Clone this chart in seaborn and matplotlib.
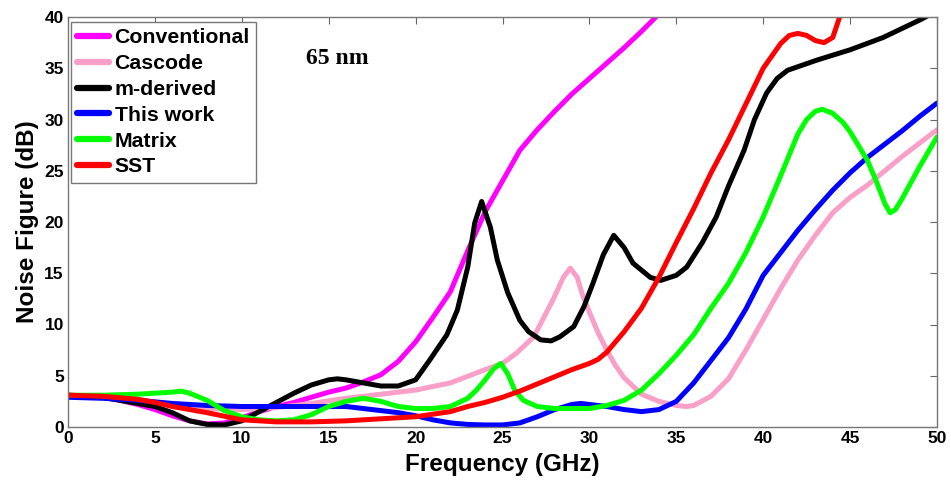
import numpy as np
import pandas as pd
import matplotlib
matplotlib.use("Agg")
import matplotlib.pyplot as plt
import seaborn as sns

# ---- data ----
conv_x = [0, 1, 2, 3, 4, 5, 6, 7, 8, 9, 10, 11, 12, 13, 14, 15, 16, 17, 18, 19, 20, 21, 22, 23, 24, 25, 26, 27, 28, 29, 30, 31, 32, 33, 34]
conv_y = [3.1, 3.05, 2.9, 2.6, 2.2, 1.7, 1.1, 0.6, 0.3, 0.4, 0.9, 1.5, 2.0, 2.4, 2.9, 3.4, 3.8, 4.4, 5.1, 6.4, 8.3, 10.7, 13.2, 17.2, 21.0, 24.0, 27.0, 29.0, 30.8, 32.5, 34.0, 35.5, 37.0, 38.6, 40.3]

casc_x = [0, 2, 4, 6, 8, 10, 12, 14, 16, 18, 20, 22, 24, 25, 25.8, 26.8, 27.9, 28.5, 28.9, 29.3, 29.6, 30, 30.5, 31, 31.5, 32, 33, 34, 35, 35.6, 36, 37, 38, 39, 40, 41, 42, 43, 44, 45, 46, 47, 48, 49, 50]
casc_y = [3.1, 3.0, 2.7, 2.2, 1.8, 1.7, 1.9, 2.3, 2.8, 3.2, 3.6, 4.3, 5.6, 6.2, 7.2, 8.8, 12.4, 14.6, 15.5, 14.6, 12.9, 11.2, 9.2, 7.5, 6.0, 4.8, 3.2, 2.5, 2.1, 2.0, 2.1, 3.0, 4.7, 7.5, 10.5, 13.5, 16.3, 18.7, 20.9, 22.4, 23.6, 25.0, 26.4, 27.7, 29.0]

mder_x = [0, 2, 4, 5, 6, 7, 8, 9, 10, 11, 12, 13, 14, 15, 15.5, 16, 17, 18, 19, 20, 20.8, 21.8, 22.4, 23.0, 23.4, 23.8, 24.3, 24.7, 25.3, 26.0, 26.5, 27.2, 27.8, 28.3, 29.1, 29.7, 30.2, 30.8, 31.4, 32, 32.5, 33.5, 34.1, 35, 35.6, 36.5, 37.3, 38, 38.9, 39.5, 40.2, 40.8, 41.4, 43.1, 45, 46.9, 49, 50]
mder_y = [3.1, 2.9, 2.3, 2.0, 1.4, 0.6, 0.25, 0.2, 0.6, 1.5, 2.4, 3.3, 4.1, 4.6, 4.7, 4.6, 4.3, 4.0, 4.0, 4.6, 6.5, 9.0, 11.4, 15.6, 19.9, 22.0, 19.5, 16.3, 13.1, 10.4, 9.3, 8.5, 8.4, 8.8, 9.8, 11.8, 14.0, 16.8, 18.7, 17.5, 16.0, 14.6, 14.3, 14.8, 15.6, 18.0, 20.5, 23.5, 27.0, 30.0, 32.6, 34.0, 34.8, 35.8, 36.8, 38.0, 39.7, 40.6]

this_x = [0, 2, 4, 6, 8, 10, 12, 14, 16, 17, 18, 19, 20, 21, 22, 23, 24, 25, 26, 27, 28, 29, 29.5, 30, 31, 32, 33, 34, 35, 36, 37, 38, 39, 40, 41, 42, 43, 44, 45, 46, 47, 48, 49, 50]
this_y = [2.9, 2.8, 2.6, 2.3, 2.1, 2.0, 2.0, 2.0, 2.0, 1.8, 1.6, 1.4, 1.1, 0.7, 0.4, 0.25, 0.2, 0.2, 0.4, 1.0, 1.7, 2.2, 2.3, 2.2, 2.0, 1.7, 1.5, 1.7, 2.5, 4.3, 6.5, 8.7, 11.5, 14.8, 17.0, 19.2, 21.2, 23.1, 24.8, 26.3, 27.6, 28.9, 30.3, 31.6]

matr_x = [0, 2, 4, 5, 6, 6.5, 7, 8, 9, 10, 11, 12, 13, 14, 15, 16, 17, 18, 19, 20, 21, 22, 23, 23.5, 24, 24.5, 24.9, 25.3, 25.7, 26.2, 27, 28, 29, 30, 31, 32, 33, 34, 35, 36, 37, 38, 39, 40, 41, 42, 42.5, 43, 43.4, 44, 44.6, 45, 46, 46.5, 47, 47.3, 47.6, 48, 49, 50]
matr_y = [3.1, 3.1, 3.2, 3.3, 3.4, 3.5, 3.3, 2.6, 1.6, 1.0, 0.7, 0.6, 0.7, 1.2, 2.0, 2.5, 2.8, 2.5, 2.0, 1.8, 1.8, 2.0, 2.8, 3.6, 4.6, 5.7, 6.2, 5.2, 3.6, 2.6, 2.0, 1.8, 1.8, 1.8, 2.1, 2.6, 3.6, 5.2, 7.0, 9.0, 11.6, 14.0, 17.0, 20.5, 24.5, 28.6, 30.0, 30.8, 31.0, 30.6, 29.7, 28.8, 26.0, 24.0, 21.8, 20.9, 21.2, 22.3, 25.4, 28.3]

sst_x = [0, 2, 4, 5, 6, 7, 8, 10, 12, 14, 16, 18, 20, 22, 23, 24, 25, 26, 27, 28, 29, 30, 30.5, 31, 32, 33, 34, 35, 36, 37, 38, 39, 40, 41, 41.5, 42, 42.5, 43, 43.5, 44, 44.3, 44.6]
sst_y = [3.1, 3.0, 2.7, 2.4, 2.0, 1.7, 1.4, 0.7, 0.5, 0.5, 0.6, 0.8, 1.0, 1.5, 2.0, 2.4, 2.9, 3.5, 4.2, 4.9, 5.6, 6.2, 6.6, 7.3, 9.3, 11.6, 14.6, 18.0, 21.3, 24.8, 28.0, 31.5, 35.0, 37.4, 38.2, 38.4, 38.2, 37.7, 37.5, 38.0, 39.5, 41.0]

series_names = ["Conventional", "Cascode", "m-derived", "This work", "Matrix", "SST"]
series_x = [conv_x, casc_x, mder_x, this_x, matr_x, sst_x]
series_y = [conv_y, casc_y, mder_y, this_y, matr_y, sst_y]
colors = ["#FF00FF", "#FA9FC8", "#000000", "#0000FF", "#00FF00", "#FF0000"]

x_ticks = [0, 5, 10, 15, 20, 25, 30, 35, 40, 45, 50]
y_ticks = [0, 5, 10, 15, 20, 25, 30, 35, 40]

sns.set_style("white")
plt.rcParams["font.family"] = ["Liberation Sans", "DejaVu Sans"]
plt.rcParams["font.weight"] = "bold"
plt.rcParams["text.color"] = "black"
plt.rcParams["axes.labelcolor"] = "black"
plt.rcParams["xtick.color"] = "black"
plt.rcParams["ytick.color"] = "black"
plt.rcParams["lines.solid_capstyle"] = "round"
plt.rcParams["lines.solid_joinstyle"] = "round"

fig = plt.figure(figsize=(9.51, 4.87), dpi=100)
ax = fig.add_axes([68 / 951, 60 / 487, (937 - 68) / 951, (427 - 17) / 487])

for name, xs, ys, c in zip(series_names, series_x, series_y, colors):
    df = pd.DataFrame({"x": xs, "y": ys})
    sns.lineplot(data=df, x="x", y="y", ax=ax, color=c, lw=3.6, label=name,
                 sort=False, estimator=None)

ax.set_xlim(0, 50)
ax.set_ylim(0, 40)
ax.set_xticks(x_ticks)
ax.set_yticks(y_ticks)
ax.tick_params(direction="in", length=5, width=0.8, color="#666666",
               top=True, right=True, labelsize=12.5, labelcolor="black", pad=3)
for lab in ax.get_xticklabels() + ax.get_yticklabels():
    lab.set_fontweight("bold")
    lab.set_color("black")
for s in ax.spines.values():
    s.set_color("#777777")
    s.set_linewidth(1.0)

ax.set_xlabel("Frequency (GHz)", fontsize=17.5, fontweight="bold", labelpad=5, color="black")
ax.set_ylabel("Noise Figure (dB)", fontsize=17.5, fontweight="bold", labelpad=4, color="black")

ax.text(13.7, 36.0, "65 nm", fontsize=17, fontweight="bold", color="black",
        family=["Liberation Serif", "DejaVu Serif"], ha="left", va="center")

leg = ax.legend(loc="upper left", bbox_to_anchor=(0.001, 0.993), fontsize=15.3,
                frameon=True, fancybox=False, framealpha=1, edgecolor="#777777",
                handlelength=1.5, handletextpad=0.25, labelspacing=0.32,
                borderpad=0.3, borderaxespad=0.1)
leg.get_frame().set_linewidth(1.0)
for t in leg.get_texts():
    t.set_fontweight("bold")
    t.set_color("black")
for l in leg.get_lines():
    l.set_linewidth(4.5)

fig.savefig("out.png", dpi=100)
